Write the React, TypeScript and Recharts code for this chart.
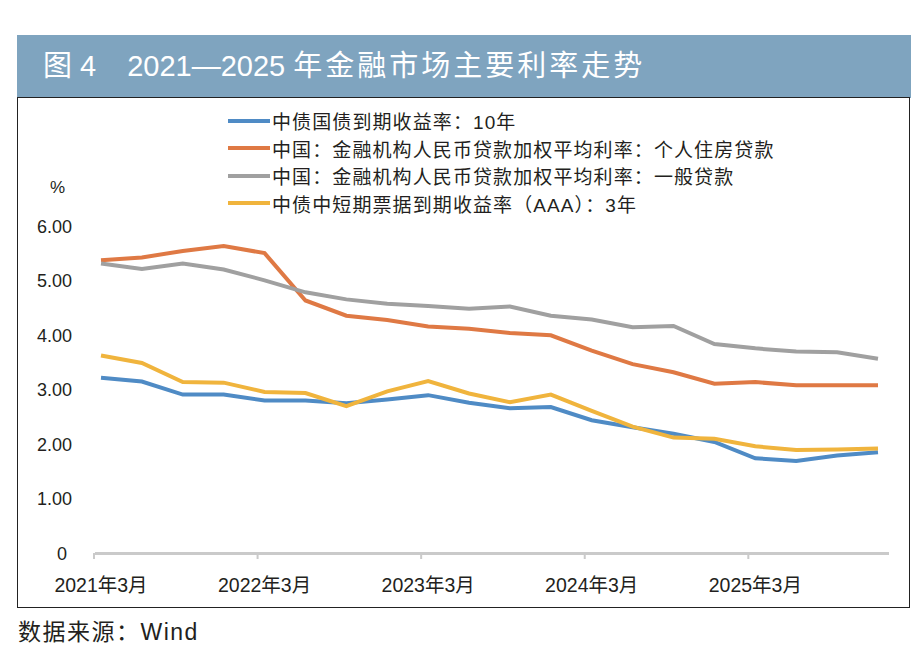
import React from 'react'
import { LineChart, Line, XAxis, YAxis } from 'recharts'

// 季度数据：2021年3月 — 2025年12月
const quarters = [
  '2021年3月', '2021年6月', '2021年9月', '2021年12月',
  '2022年3月', '2022年6月', '2022年9月', '2022年12月',
  '2023年3月', '2023年6月', '2023年9月', '2023年12月',
  '2024年3月', '2024年6月', '2024年9月', '2024年12月',
  '2025年3月', '2025年6月', '2025年9月', '2025年12月',
]

const bond10y = [3.23, 3.16, 2.92, 2.92, 2.81, 2.81, 2.76, 2.83, 2.91, 2.77, 2.67, 2.69, 2.45, 2.32, 2.20, 2.05, 1.75, 1.70, 1.80, 1.86]
const housingLoan = [5.39, 5.44, 5.56, 5.65, 5.52, 4.65, 4.37, 4.29, 4.17, 4.13, 4.05, 4.01, 3.73, 3.48, 3.33, 3.12, 3.15, 3.09, 3.09, 3.09]
const generalLoan = [5.33, 5.23, 5.33, 5.22, 5.02, 4.80, 4.67, 4.59, 4.55, 4.50, 4.54, 4.37, 4.30, 4.16, 4.18, 3.85, 3.77, 3.71, 3.70, 3.58]
const cp3yAAA = [3.64, 3.50, 3.15, 3.14, 2.97, 2.95, 2.71, 2.98, 3.17, 2.94, 2.78, 2.92, 2.62, 2.33, 2.13, 2.11, 1.97, 1.90, 1.91, 1.93]

const yTicks = [0, 1, 2, 3, 4, 5, 6]
const xTickLabels = ['2021年3月', '2022年3月', '2023年3月', '2024年3月', '2025年3月']

const SERIES = [
  { key: 'bond10y', name: '中债国债到期收益率：10年', color: '#4f8bc5' },
  { key: 'housingLoan', name: '中国：金融机构人民币贷款加权平均利率：个人住房贷款', color: '#df7944' },
  { key: 'generalLoan', name: '中国：金融机构人民币贷款加权平均利率：一般贷款', color: '#a0a0a0' },
  { key: 'cp3yAAA', name: '中债中短期票据到期收益率（AAA）：3年', color: '#f0b43d' },
]

const data = quarters.map((q, i) => ({
  quarter: q,
  bond10y: bond10y[i],
  housingLoan: housingLoan[i],
  generalLoan: generalLoan[i],
  cp3yAAA: cp3yAAA[i],
}))

const FONT = "'Liberation Sans', 'Noto Sans CJK SC', sans-serif"
const TEXT = '#231f20'

function YTick(props: any) {
  const { y, payload } = props
  const isZero = payload.value === 0
  return (
    <text x={isZero ? 67 : 72} y={y} textAnchor="end" dominantBaseline="central"
      fontSize={18} fill={TEXT} fontFamily={FONT}>
      {isZero ? '0' : payload.value.toFixed(2)}
    </text>
  )
}

// tick mark + label, only on every March
function XTick(props: any) {
  const { x, payload } = props
  if (!xTickLabels.includes(payload.value)) return null
  return (
    <g>
      <line x1={x - 7} x2={x - 7} y1={553} y2={559} stroke="#cacaca" strokeWidth={2} />
      <text x={x} y={585} textAnchor="middle" dominantBaseline="central"
        fontSize={19.5} fill={TEXT} fontFamily={FONT}>
        {payload.value}
      </text>
    </g>
  )
}

export default function App() {
  return (
    <div style={{ position: 'absolute', left: 0, top: 0, width: 912, height: 664, background: '#fff', fontFamily: FONT }}>
      <div style={{
        position: 'absolute', left: 17, top: 35, width: 894, height: 63, background: '#7fa4bf',
        color: '#fff', fontSize: 29, lineHeight: '63px', paddingLeft: 26, boxSizing: 'border-box', whiteSpace: 'pre',
      }}>
        <span>图</span>
        <span style={{ marginLeft: 8 }}>4</span>
        <span style={{ marginLeft: 31 }}>2021—2025</span>
        <span style={{ marginLeft: 8, letterSpacing: 3 }}>年金融市场主要利率走势</span>
      </div>
      <div style={{
        position: 'absolute', left: 17, top: 97, width: 893, height: 511,
        border: '1.5px solid #222', boxSizing: 'border-box',
      }} />
      <div style={{ position: 'absolute', left: 50, top: 178, fontSize: 17, color: TEXT }}>%</div>
      <div style={{ position: 'absolute', left: 228, top: 107 }}>
        {SERIES.map(s => (
          <div key={s.key} style={{ display: 'flex', alignItems: 'center', height: 27.5 }}>
            <span style={{ display: 'inline-block', width: 42, height: 4, background: s.color, marginRight: 2 }} />
            <span style={{ fontSize: 19, letterSpacing: 1.1, color: TEXT, whiteSpace: 'nowrap' }}>{s.name}</span>
          </div>
        ))}
      </div>
      <div style={{ position: 'absolute', left: 0, top: 0 }}>
        <LineChart width={912} height={664} data={data}
          margin={{ top: 227, right: 23, bottom: 80, left: 0 }}>
          <XAxis dataKey="quarter" interval={0} height={30.5}
            padding={{ left: 6, right: 11 }}
            axisLine={{ stroke: '#cacaca', strokeWidth: 3 }}
            tickLine={false}
            tick={<XTick />} />
          <YAxis domain={[0, 6]} ticks={yTicks} width={95} axisLine={false} tickLine={false} tick={<YTick />} />
          {SERIES.map(s => (
            <Line key={s.key} type="linear" dataKey={s.key} name={s.name} stroke={s.color}
              strokeWidth={4} dot={false} isAnimationActive={false} />
          ))}
        </LineChart>
      </div>
      <div style={{ position: 'absolute', left: 18, top: 613, fontSize: 23, letterSpacing: 1.5, color: TEXT }}>数据来源：Wind</div>
    </div>
  )
}
